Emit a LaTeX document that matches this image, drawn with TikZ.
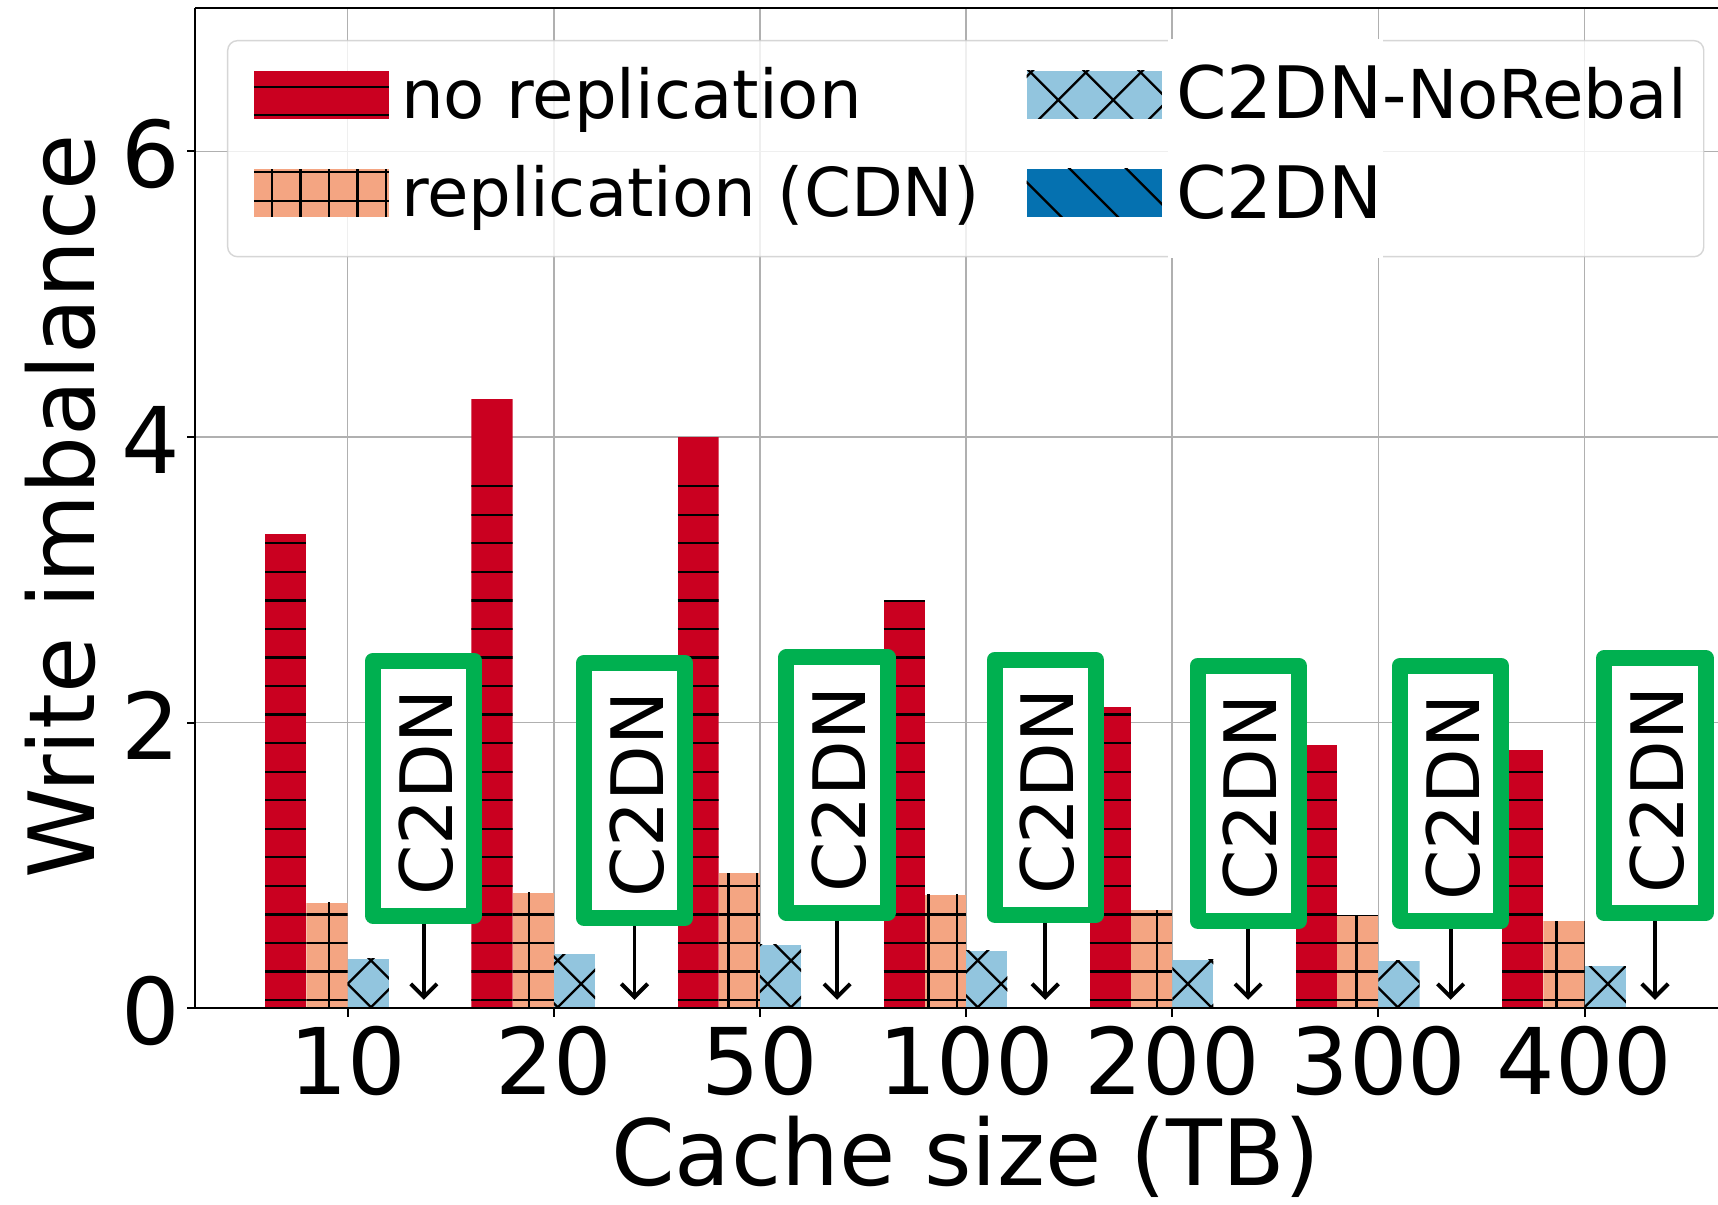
\documentclass[tikz,border=0pt]{standalone}
\usepackage{fontspec}
\setmainfont{DejaVu Sans}
\usetikzlibrary{arrows.meta}

\definecolor{barred}{HTML}{CA0020}
\definecolor{barorange}{HTML}{F4A582}
\definecolor{barlight}{HTML}{92C5DE}
\definecolor{bardark}{HTML}{0571B0}
\definecolor{boxgreen}{HTML}{00B050}
\definecolor{gridgray}{HTML}{B0B0B0}
\definecolor{framegray}{HTML}{CCCCCC}

\tikzset{
  hatchline/.style={line width=1.05pt, black},
  gridline/.style={line width=0.7pt, gridgray},
  spine/.style={line width=0.85pt, black},
  tickmark/.style={line width=0.85pt, black},
  ticklabel/.style={font=\fontsize{42}{42}\selectfont, inner sep=0pt},
  axislabel/.style={font=\fontsize{41.7}{41.7}\selectfont, inner sep=0pt},
  legendtext/.style={font=\fontsize{30.75}{30.75}\selectfont, inner sep=0pt, anchor=base west},
  c2dnbox/.style={draw=boxgreen, fill=white, line width=7.3pt, line join=round,
    minimum width=46.2pt, minimum height=116.45pt, inner sep=0pt},
  c2dnlabel/.style={font=\fontsize{33}{33}\selectfont, inner sep=0pt, rotate=90},
  downarrow/.style={line width=1.8pt, -{Straight Barb[length=6pt, width=12pt]}},
}

% crossed diagonal hatch inside the current clip:
% #1 left, #2 right, #3 bottom, #4 top, (#5,#6) a crossing point, #7 spacing
\newcommand\xhatch[7]{%
  \pgfmathsetmacro\kone{floor((#3-(#2)-((#6)-(#5)))/(#7))}%
  \pgfmathsetmacro\mone{floor((#3+(#1)-((#6)+(#5)))/(#7))}%
  \foreach \k in {0,...,5}{%
    \pgfmathsetmacro\ca{(#6)-(#5)+(#7)*(\kone+\k)}%
    \pgfmathsetmacro\cb{(#6)+(#5)+(#7)*(\mone+\k)}%
    \draw[hatchline] ({#1-2},{#1-2+(\ca)}) -- ({#2+2},{#2+2+(\ca)});
    \draw[hatchline] ({#1-2},{-(#1-2)+(\cb)}) -- ({#2+2},{-(#2+2)+(\cb)});
  }}

\begin{document}
\begin{tikzpicture}[x=0.5pt,y=0.5pt]
\useasboundingbox (0,0) rectangle (1568,1099);
\fill[white] (0,0) rectangle (1568,1099);

\def\yzero{178.7}
\def\yunit{130.35}
\def\barw{37.63}

% grid
\foreach \gi in {0,...,6}
  \draw[gridline] ({317.3+188.15*\gi},\yzero) -- ({317.3+188.15*\gi},1092);
\foreach \yv in {2,4,6}
  \draw[gridline] (178,{\yzero+\yv*\yunit}) -- (1568,{\yzero+\yv*\yunit});

% bars: no replication, replication (CDN), C2DN-NoRebal
\foreach \gi/\vr/\vo/\vb in {0/3.324/0.739/0.348, 1/4.268/0.809/0.379,
    2/4.0/0.946/0.447, 3/2.856/0.794/0.402, 4/2.112/0.687/0.34,
    5/1.844/0.648/0.332, 6/1.806/0.61/0.294}{
  \pgfmathsetmacro\cx{317.3+188.15*\gi}
  \pgfmathsetmacro\bxa{\cx-2*\barw}
  \pgfmathsetmacro\bxb{\cx-\barw}
  \pgfmathsetmacro\bxc{\cx+\barw}
  \pgfmathsetmacro\topr{\yzero+\vr*\yunit}
  \pgfmathsetmacro\topo{\yzero+\vo*\yunit}
  \pgfmathsetmacro\topb{\yzero+\vb*\yunit}
  \begin{scope}
    \clip (\bxa,\yzero) rectangle (\bxb,\topr);
    \fill[barred] (\bxa,\yzero) rectangle (\bxb,\topr);
    \foreach \k in {0,...,18}
      \draw[hatchline] (\bxa,{186.3+26.05*\k}) -- (\bxb,{186.3+26.05*\k});
  \end{scope}
  \begin{scope}
    \clip (\bxb,\yzero) rectangle (\cx,\topo);
    \fill[barorange] (\bxb,\yzero) rectangle (\cx,\topo);
    \foreach \k in {0,...,6}
      \draw[hatchline] (\bxb,{186.3+26.05*\k}) -- (\cx,{186.3+26.05*\k});
    \pgfmathsetmacro\vk{floor((\bxb-300.3)/26.05)}
    \foreach \k in {0,1,2}
      \draw[hatchline] ({300.3+26.05*(\vk+\k)},\yzero) -- ++(0,200);
  \end{scope}
  \begin{scope}
    \clip (\cx,\yzero) rectangle (\bxc,\topb);
    \fill[barlight] (\cx,\yzero) rectangle (\bxc,\topb);
    \xhatch{\cx}{\bxc}{\yzero}{\topb}{317.3}{201}{42.6}
  \end{scope}
}

% spines and ticks
\draw[spine] (178,1092) -- (178,\yzero) -- (1568,\yzero);
\draw[spine] (178,1092) -- (1568,1092);
\foreach \gi in {0,...,6}
  \draw[tickmark] ({317.3+188.15*\gi},\yzero) -- ++(0,-7.5);
\foreach \yv in {0,2,4,6}
  \draw[tickmark] (178,{\yzero+\yv*\yunit}) -- ++(-7.5,0);

% tick labels
\foreach \gi/\lab in {0/10,1/20,2/50,3/100,4/200,5/300,6/400}
  \node[ticklabel, anchor=base] (xt\gi) at ({317.3+188.15*\gi},100.5) {\lab};
\foreach \yv in {0,2,4,6}
  \node[ticklabel, anchor=east] (yt\yv) at (164.5,{\yzero+\yv*\yunit-2.3}) {\yv};

% axis labels
\node[axislabel, anchor=base] (xlab) at (881.5,17) {Cache size (TB)};
\node[axislabel, anchor=base, rotate=90] (ylab) at (86,636.5) {Write imbalance};

% legend
\path[fill=white, fill opacity=0.8, draw=framegray, draw opacity=0.8,
      line width=0.65pt, rounded corners=4.5pt] (207.8,864.7) rectangle (1555,1061.9);
\begin{scope}
  \clip (231.8,990.7) rectangle (355,1034.2);
  \fill[barred] (231.8,990.7) rectangle (355,1034.2);
  \foreach \k in {30,...,33}
    \draw[hatchline] (231.8,{186.3+26.05*\k}) -- (355,{186.3+26.05*\k});
\end{scope}
\begin{scope}
  \clip (231.8,901.2) rectangle (355,944.8);
  \fill[barorange] (231.8,901.2) rectangle (355,944.8);
  \foreach \k in {27,...,30}
    \draw[hatchline] (231.8,{186.3+26.05*\k}) -- (355,{186.3+26.05*\k});
  \foreach \k in {-3,...,3}
    \draw[hatchline] ({300.3+26.05*\k},901.2) -- ({300.3+26.05*\k},944.8);
\end{scope}
\begin{scope}
  \clip (937,990.7) rectangle (1060.5,1034.2);
  \fill[barlight] (937,990.7) rectangle (1060.5,1034.2);
  \xhatch{937}{1060.5}{990.7}{1034.2}{965.9}{1007.7}{50.2}
\end{scope}
\begin{scope}
  \clip (937,901.2) rectangle (1060.5,944.8);
  \fill[bardark] (937,901.2) rectangle (1060.5,944.8);
  \foreach \k in {-2,...,3}
    \draw[hatchline] (930,{1921.4+51.7*\k-930}) -- (1070,{1921.4+51.7*\k-1070});
\end{scope}
\fill[white] (1066.3,863.5) rectangle (1262,1063);

\node[legendtext] (lg1) at (365.6,991) {no replication};
\node[legendtext] (lg2) at (365.6,901.3) {replication (CDN)};
\node[legendtext] (lg3) at (1073.3,990.5)
  {{\fontsize{33}{33}\selectfont C2DN}-NoRebal};
\node[legendtext, font=\fontsize{33}{33}\selectfont] (lg4) at (1073.3,899.5) {C2DN};

% C2DN call-outs
\foreach \n/\bx/\by in {1/386.8/719.35, 2/579.1/721.45, 3/764/716.5, 4/954/718.5,
    5/1139.2/724, 6/1324/724, 7/1510.5/717}{
  \node[c2dnbox] (box\n) at (\bx,{1099-\by}) {};
  \node[c2dnlabel] (lab\n) at ({\bx+2},{1099-\by-4}) {C2DN};
  \coordinate (tip\n) at (\bx,186.5);
  \draw[downarrow] (box\n.south) -- (tip\n);
}
\end{tikzpicture}
\end{document}
